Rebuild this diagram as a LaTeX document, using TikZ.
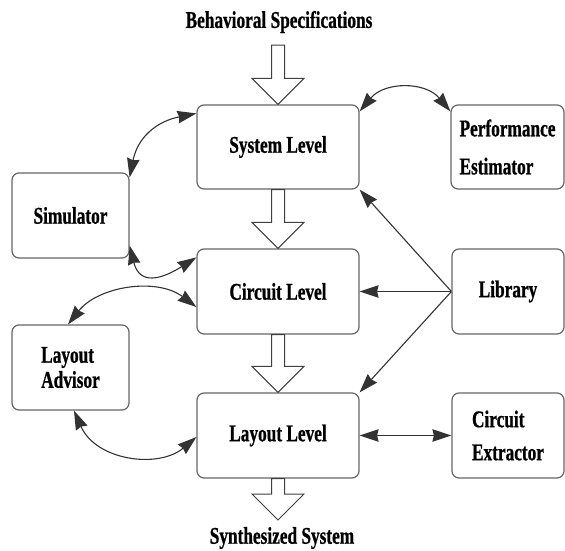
\documentclass[tikz,border=0pt]{standalone}
\usepackage{fontspec}
\setmainfont[FakeStretch=0.72,BoldFeatures={FakeBold=0.8}]{Liberation Serif}
\usetikzlibrary{arrows.meta,calc}
\begin{document}
\begin{tikzpicture}[x=1pt,y=-1pt,
  tip/.tip={Stealth[length=19pt,width=12.5pt,inset=1.5pt]},
  box/.style={draw=black!60,line width=1.2pt,rounded corners=7pt,fill=white,
    font=\fontsize{24}{28}\selectfont\bfseries,inner sep=0pt},
  lab/.style={font=\fontsize{24}{28}\selectfont\bfseries,inner sep=0pt},
  hollow/.style={draw=black!75,line width=1pt,fill=white,line join=miter},
  conn/.style={draw=black!80,line width=1.1pt,-tip},
  dconn/.style={draw=black!80,line width=1.1pt,tip-tip}]
\useasboundingbox (0,0) rectangle (565,550);

\node[box,minimum width=162pt,minimum height=84pt] (sys) at (278,147) {System Level};
\node[box,minimum width=162pt,minimum height=85pt] (cir) at (278,291.5) {Circuit Level};
\node[box,minimum width=162pt,minimum height=85pt] (lay) at (278,435.5) {Layout Level};
\node[box,minimum width=113pt,minimum height=84pt,align=left] (perf) at (507.5,147) {Performance\\[10pt]Estimator};
\node[box,minimum width=112pt,minimum height=85pt] (lib) at (508,291.5) {Library};
\node[box,minimum width=112pt,minimum height=85pt,align=left] (ext) at (508,435.5) {Circuit\\[5pt]Extractor};
\node[box,minimum width=117pt,minimum height=85pt] (sim) at (70.5,215.5) {Simulator};
\node[box,minimum width=117pt,minimum height=85pt,align=left] (adv) at (70.5,367.5) {Layout\\[-3pt]Advisor};

\node[lab] (spec) at (279,22) {Behavioral Specifications};
\node[lab] (synth) at (282,538) {Synthesized System};
\coordinate (inp) at (278,45);
\coordinate (outp) at (278,520);

\newcommand\blockarr[2]{\draw[hollow] let \p1=(#1), \p2=(#2) in
  (\x1-6.5pt,\y1) -- (\x1-6.5pt,\y2+26pt) -- (\x1-26pt,\y2+26pt) -- (\x2,\y2)
  -- (\x1+26pt,\y2+26pt) -- (\x1+6.5pt,\y2+26pt) -- (\x1+6.5pt,\y1) -- cycle;}
\blockarr{inp}{sys.north}
\blockarr{sys.south}{cir.north}
\blockarr{cir.south}{lay.north}
\blockarr{lay.south}{outp}

% curved two-way connectors
\draw[dconn] ([yshift=-7pt]sys.north east) .. controls +(25,-30) and +(-25,-30) .. ([yshift=-7pt]perf.north west);
\draw[dconn] ([yshift=-5pt]sim.north east) .. controls +(8,-40) and +(-40,8) .. ([yshift=-9pt]sys.north west);
\draw[dconn] ([yshift=13pt]sim.south east) .. controls +(10,40) and +(-35,22) .. ([yshift=-9pt]cir.north west);
\draw[dconn] ([yshift=-15.5pt]cir.west) .. controls +(-40,-30) and +(30,-38) .. ([xshift=-2.5pt]adv.north);
\draw[dconn] ([xshift=3.5pt]adv.south) .. controls +(22,50) and +(-38,32) .. ([yshift=-1.5pt]lay.west);

% library
\draw[conn] (lib.west) -- (sys.south east);
\draw[conn] (lib.west) -- (cir.east);
\draw[conn] (lib.west) -- (lay.north east);
\draw[dconn] (lay.east) -- (ext.west);
\end{tikzpicture}
\end{document}
